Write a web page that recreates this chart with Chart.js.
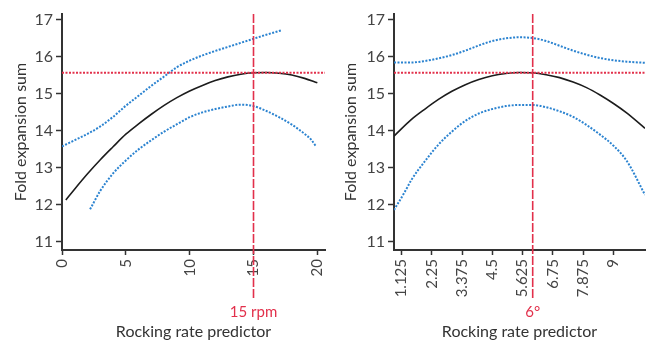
<!DOCTYPE html>
<html>
<head>
<meta charset="utf-8">
<script src="https://cdn.jsdelivr.net/npm/chart.js@4/dist/chart.umd.min.js"></script>
<style>
  body { margin: 0; background: #fff; }
  #wrap { position: relative; width: 647px; height: 340px; overflow: hidden; }
  .panel { position: absolute; top: 0; height: 340px; }
</style>
</head>
<body>
<div id="wrap">
  <div class="panel" style="left:0;width:330px"><canvas id="chartLeft"></canvas></div>
  <div class="panel" style="left:330px;width:317px"><canvas id="chartRight"></canvas></div>
</div>
<script>
// y axis (shared)
var yTicks = [11, 12, 13, 14, 15, 16, 17];
var optimumY = 15.57;

// left panel: rocking rate (rpm)
var leftTicks = [0, 5, 10, 15, 20];
var leftFitX = [0.3, 1, 2, 3, 4, 5, 6, 7, 8, 9, 10, 11, 12, 13, 14, 15, 16, 17, 18, 19, 20];
var leftFitY = [12.13, 12.43, 12.84, 13.22, 13.57, 13.91, 14.19, 14.45, 14.69, 14.90, 15.08, 15.23, 15.36, 15.46, 15.53, 15.57, 15.58, 15.56, 15.51, 15.42, 15.30];
var leftUpX = [0, 1, 2, 3, 4, 5, 6, 7, 8, 9, 10, 11, 12, 13, 14, 15, 16, 17.2];
var leftUpY = [13.58, 13.75, 13.92, 14.12, 14.38, 14.68, 14.95, 15.22, 15.47, 15.72, 15.90, 16.04, 16.16, 16.27, 16.38, 16.49, 16.60, 16.72];
var leftLoX = [2.2, 3, 4, 5, 6, 7, 8, 9, 10, 11, 12, 13, 14, 15, 16, 17, 18, 18.5, 19, 19.5, 19.9];
var leftLoY = [11.88, 12.38, 12.85, 13.20, 13.50, 13.75, 13.98, 14.18, 14.37, 14.50, 14.59, 14.66, 14.71, 14.67, 14.54, 14.37, 14.17, 14.05, 13.92, 13.77, 13.58];
var leftMark = 15, leftMarkLabel = '15 rpm';

// right panel: rocking angle (degrees)
var rightTicks = [1.125, 2.25, 3.375, 4.5, 5.625, 6.75, 7.875, 9];
var rightFitX = [0.85, 1.5, 2, 2.5, 3, 3.5, 4, 4.5, 5, 5.5, 6, 6.5, 7, 7.5, 8, 8.5, 9, 9.5, 10.17];
var rightFitY = [13.86, 14.31, 14.59, 14.85, 15.07, 15.25, 15.39, 15.49, 15.55, 15.58, 15.57, 15.52, 15.44, 15.32, 15.17, 14.97, 14.74, 14.48, 14.07];
var rightUpX = [0.85, 1.5, 2, 2.5, 3, 3.5, 4, 4.5, 5, 5.5, 6, 6.5, 7, 7.5, 8, 8.5, 9, 9.5, 10.17];
var rightUpY = [15.85, 15.85, 15.89, 15.96, 16.05, 16.17, 16.31, 16.43, 16.50, 16.53, 16.51, 16.43, 16.30, 16.17, 16.06, 15.97, 15.91, 15.87, 15.84];
var rightLoX = [0.85, 1.25, 1.5, 2, 2.5, 3, 3.5, 4, 4.5, 5, 5.5, 6, 6.5, 7, 7.5, 8, 8.5, 9, 9.5, 10.17];
var rightLoY = [11.86, 12.35, 12.68, 13.18, 13.63, 13.98, 14.27, 14.47, 14.59, 14.67, 14.70, 14.70, 14.64, 14.53, 14.38, 14.16, 13.90, 13.60, 13.18, 12.27];
var rightMark = 6, rightMarkLabel = '6\u00B0';

var FONT = 'Lato';
var RED = '#e2304b';
var BLUE = '#2b83d0';

function pts(xs, ys) {
    var out = [];
    for (var i = 0; i < xs.length; i++) out.push({ x: xs[i], y: ys[i] });
    return out;
}

// red dashed marker line that runs down past the axis, with its label
var markerPlugin = {
    id: 'marker',
    afterDatasetsDraw: function (chart, args, opts) {
        var ctx = chart.ctx;
        var x = chart.scales.x.getPixelForValue(opts.value);
        ctx.save();
        ctx.strokeStyle = RED;
        ctx.lineWidth = 1.6;
        ctx.setLineDash([9, 2]);
        ctx.beginPath();
        ctx.moveTo(x, chart.chartArea.top);
        ctx.lineTo(x, 300);
        ctx.stroke();
        ctx.setLineDash([]);
        ctx.fillStyle = RED;
        ctx.font = '15px ' + FONT;
        ctx.textAlign = 'center';
        ctx.textBaseline = 'middle';
        ctx.fillText(opts.label, x, 312);
        ctx.restore();
    }
};

function makePanel(id, cfg) {
    var ctx = document.getElementById(id).getContext('2d');
    return new Chart(ctx, {
        type: 'line',
        data: {
            datasets: [
                { data: pts([cfg.xmin, cfg.xmax], [optimumY, optimumY]), borderColor: RED, borderWidth: 2, borderDash: [2, 1.5] },
                { data: pts(cfg.upX, cfg.upY), borderColor: BLUE, borderWidth: 2, borderDash: [2, 1.5], cubicInterpolationMode: 'monotone' },
                { data: pts(cfg.loX, cfg.loY), borderColor: BLUE, borderWidth: 2, borderDash: [2, 1.5], cubicInterpolationMode: 'monotone' },
                { data: pts(cfg.fitX, cfg.fitY), borderColor: '#1c1c1c', borderWidth: 1.6, cubicInterpolationMode: 'monotone' }
            ]
        },
        options: {
            responsive: true,
            maintainAspectRatio: false,
            animation: false,
            elements: { point: { radius: 0 } },
            layout: { padding: { top: 14, right: cfg.padRight, left: 0, bottom: 0 } },
            plugins: {
                legend: { display: false },
                tooltip: { enabled: false },
                marker: { value: cfg.mark, label: cfg.markLabel }
            },
            scales: {
                x: {
                    type: 'linear',
                    min: cfg.xmin,
                    max: cfg.xmax,
                    afterBuildTicks: function (scale) {
                        scale.ticks = cfg.ticks.map(function (v) { return { value: v }; });
                    },
                    afterFit: function (scale) {
                        scale.height = 90;
                        scale.paddingLeft = 0;
                        scale.paddingRight = 0;
                    },
                    grid: { drawOnChartArea: false, drawTicks: true, tickLength: 5, tickColor: '#333', tickWidth: 1.5 },
                    border: { display: true, color: '#333', width: 2 },
                    ticks: {
                        minRotation: 90, maxRotation: 90, padding: 4,
                        color: '#444', font: { family: FONT, size: 15 },
                        callback: function (v) { return String(v); }
                    },
                    title: {
                        display: true, text: 'Rocking rate predictor', color: '#333',
                        font: { family: FONT, size: 16, lineHeight: 1 }, padding: { top: 0, bottom: 0 }
                    }
                },
                y: {
                    min: 10.78,
                    max: 17.16,
                    afterBuildTicks: function (scale) {
                        scale.ticks = yTicks.map(function (v) { return { value: v }; });
                    },
                    afterFit: function (scale) {
                        scale.width = cfg.yWidth;
                        scale.paddingTop = 0;
                        scale.paddingBottom = 0;
                    },
                    grid: { drawOnChartArea: false, drawTicks: true, tickLength: 6, tickColor: '#333', tickWidth: 1.5 },
                    border: { display: true, color: '#333', width: 2 },
                    ticks: { padding: 3, color: '#444', font: { family: FONT, size: 16 } },
                    title: {
                        display: true, text: 'Fold expansion sum', color: '#333',
                        font: { family: FONT, size: 16, lineHeight: 1.2 }, padding: { top: 11, bottom: 0 }
                    }
                }
            }
        },
        plugins: [markerPlugin]
    });
}

makePanel('chartLeft', {
    xmin: 0, xmax: 20.6, ticks: leftTicks, yWidth: 62, padRight: 5,
    fitX: leftFitX, fitY: leftFitY, upX: leftUpX, upY: leftUpY, loX: leftLoX, loY: leftLoY,
    mark: leftMark, markLabel: leftMarkLabel
});
makePanel('chartRight', {
    xmin: 0.85, xmax: 10.17, ticks: rightTicks, yWidth: 64, padRight: 2,
    fitX: rightFitX, fitY: rightFitY, upX: rightUpX, upY: rightUpY, loX: rightLoX, loY: rightLoY,
    mark: rightMark, markLabel: rightMarkLabel
});
</script>
</body>
</html>
